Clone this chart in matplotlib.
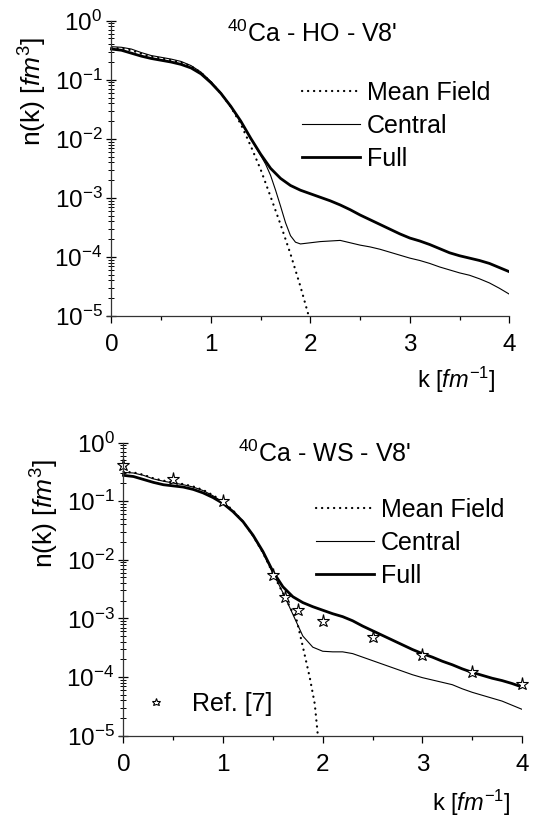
import numpy as np
import matplotlib
matplotlib.use("Agg")
import matplotlib.pyplot as plt
from matplotlib.ticker import LogLocator, MultipleLocator, NullFormatter

plt.rcParams['font.family'] = ['Liberation Sans', 'DejaVu Sans']
plt.rcParams['mathtext.fontset'] = 'custom'
plt.rcParams['mathtext.rm'] = 'Liberation Sans'
plt.rcParams['mathtext.it'] = 'Liberation Sans:italic'
plt.rcParams['mathtext.bf'] = 'Liberation Sans:bold'

# ---------------- data (log10 n(k)) ----------------
k_grid = [0.0, 0.1, 0.2, 0.3, 0.4, 0.5, 0.6, 0.7, 0.8, 0.9, 1.0, 1.1, 1.2, 1.3,
          1.4, 1.5, 1.6, 1.7, 1.8, 1.9, 2.0, 2.1, 2.2, 2.3, 2.4, 2.5, 2.6, 2.7,
          2.8, 2.9, 3.0, 3.1, 3.2, 3.3, 3.4, 3.5, 3.6, 3.7, 3.8, 3.9, 4.0]

# Top panel: 40Ca - HO - V8'
ho_full_log = [-0.48, -0.50, -0.55, -0.60, -0.64, -0.67, -0.70, -0.74, -0.80, -0.90,
               -1.05, -1.23, -1.45, -1.70, -1.99, -2.26, -2.50, -2.67, -2.79, -2.87,
               -2.93, -2.99, -3.05, -3.12, -3.20, -3.29, -3.37, -3.45, -3.53, -3.61,
               -3.68, -3.73, -3.79, -3.86, -3.93, -3.98, -4.02, -4.06, -4.11, -4.18,
               -4.25]
ho_central_k = [0.0, 0.1, 0.2, 0.3, 0.4, 0.5, 0.6, 0.7, 0.8, 0.9, 1.0, 1.1, 1.2, 1.3,
                1.4, 1.5, 1.55, 1.6, 1.65, 1.7, 1.75, 1.8, 1.85, 1.9, 1.95, 2.0, 2.1,
                2.2, 2.3, 2.4, 2.5, 2.6, 2.7, 2.8, 2.9, 3.0, 3.1, 3.2, 3.3, 3.4, 3.5,
                3.6, 3.7, 3.8, 3.9, 4.0]
ho_central_log = [-0.44, -0.45, -0.48, -0.54, -0.59, -0.62, -0.65, -0.69, -0.76, -0.87,
                  -1.03, -1.22, -1.45, -1.71, -2.00, -2.28, -2.43, -2.62, -2.87, -3.14,
                  -3.42, -3.64, -3.75, -3.78, -3.77, -3.76, -3.74, -3.73, -3.72, -3.76,
                  -3.80, -3.83, -3.87, -3.92, -3.97, -4.02, -4.06, -4.11, -4.17, -4.22,
                  -4.27, -4.31, -4.37, -4.44, -4.53, -4.63]
ho_mf_k = [0.0, 0.1, 0.2, 0.3, 0.4, 0.5, 0.6, 0.7, 0.8, 0.9, 1.0, 1.1, 1.2, 1.3,
           1.4, 1.5, 1.6, 1.7, 1.8, 1.9, 2.0]
ho_mf_log = [-0.46, -0.47, -0.50, -0.56, -0.61, -0.64, -0.67, -0.71, -0.77, -0.88,
             -1.04, -1.23, -1.46, -1.75, -2.12, -2.52, -2.98, -3.45, -3.95, -4.50,
             -5.10]

# Bottom panel: 40Ca - WS - V8'
ws_full_log = [-0.56, -0.58, -0.63, -0.68, -0.72, -0.74, -0.76, -0.80, -0.86, -0.94,
               -1.04, -1.18, -1.35, -1.58, -1.86, -2.20, -2.46, -2.63, -2.73, -2.80,
               -2.86, -2.92, -2.97, -3.04, -3.13, -3.21, -3.29, -3.37, -3.45, -3.53,
               -3.60, -3.66, -3.73, -3.79, -3.86, -3.92, -3.97, -4.02, -4.06, -4.11,
               -4.17]
ws_central_log = [-0.51, -0.52, -0.56, -0.62, -0.66, -0.69, -0.72, -0.76, -0.82, -0.91,
                  -1.02, -1.17, -1.35, -1.59, -1.88, -2.22, -2.56, -2.93, -3.30, -3.49,
                  -3.56, -3.57, -3.57, -3.60, -3.66, -3.72, -3.78, -3.84, -3.90, -3.96,
                  -4.01, -4.05, -4.09, -4.13, -4.20, -4.26, -4.31, -4.36, -4.41, -4.48,
                  -4.55]
ws_mf_k = [0.0, 0.1, 0.2, 0.3, 0.4, 0.5, 0.6, 0.7, 0.8, 0.9, 1.0, 1.1, 1.2, 1.3,
           1.4, 1.5, 1.6, 1.7, 1.74, 1.8, 1.87, 1.92, 1.95]
ws_mf_log = [-0.50, -0.51, -0.55, -0.61, -0.65, -0.68, -0.71, -0.75, -0.81, -0.90,
             -1.01, -1.16, -1.35, -1.59, -1.88, -2.23, -2.57, -2.90, -3.04, -3.48,
             -4.01, -4.46, -4.98]
ref7_k = [0.0, 0.5, 1.0, 1.5, 1.625, 1.75, 2.0, 2.5, 3.0, 3.5, 4.0]
ref7_log = [-0.39, -0.62, -0.99, -2.26, -2.63, -2.86, -3.05, -3.31, -3.62, -3.92, -4.11]

titles = [r"$^{40}$Ca - HO - V8'", r"$^{40}$Ca - WS - V8'"]
legend_labels = ["Mean Field", "Central", "Full"]
ref_label = "Ref. [7]"
ylabel = r"n(k) [$\mathit{fm}^{3}$]"
xlabel = r"k [$\mathit{fm}^{-1}$]"

W, H = 536, 823
fig = plt.figure(figsize=(W / 100, H / 100), dpi=100)

def px_ax(left, top, right, bottom):
    return fig.add_axes([left / W, 1 - bottom / H, (right - left) / W, (bottom - top) / H])

ax1 = px_ax(106.5, 20.7, 509.3, 316.0)
ax2 = px_ax(118.5, 442.5, 522.0, 735.7)

def p10(a):
    return 10.0 ** np.asarray(a)

MF_STYLE = dict(color='black', lw=1.6, ls=(0, (0.1, 2.6)), dash_capstyle='round')
C_STYLE = dict(color='black', lw=0.8)
F_STYLE = dict(color='black', lw=2.0)

# top
l_mf, = ax1.plot(ho_mf_k, p10(ho_mf_log), **MF_STYLE)
l_c, = ax1.plot(ho_central_k, p10(ho_central_log), **C_STYLE)
l_f, = ax1.plot(k_grid, p10(ho_full_log), **F_STYLE)
# bottom
m_mf, = ax2.plot(ws_mf_k, p10(ws_mf_log), **MF_STYLE)
m_c, = ax2.plot(k_grid, p10(ws_central_log), **C_STYLE)
m_f, = ax2.plot(k_grid, p10(ws_full_log), **F_STYLE)
m_s, = ax2.plot(ref7_k, p10(ref7_log), ls='none', marker='*', ms=9.5,
                mfc='white', mec='black', mew=0.8, clip_on=False)

TICK_FS = 17.5
for ax in (ax1, ax2):
    ax.set_yscale('log')
    ax.set_ylim(1e-5, 1.0)
    ax.set_xlim(-0.05, 4.0)
    ax.spines['top'].set_visible(False)
    ax.spines['right'].set_visible(False)
    ax.spines['left'].set_position(('data', 0.0))
    ax.spines['left'].set_linewidth(0.9)
    ax.spines['bottom'].set_linewidth(0.9)
    ax.spines['left'].set_color('#333333')
    ax.spines['bottom'].set_color('#333333')
    ax.xaxis.set_major_locator(MultipleLocator(1))
    ax.xaxis.set_minor_locator(MultipleLocator(0.5))
    ax.yaxis.set_major_locator(LogLocator(base=10, numticks=10))
    ax.yaxis.set_minor_locator(LogLocator(base=10, subs=np.arange(2, 10), numticks=20))
    ax.yaxis.set_minor_formatter(NullFormatter())
    ax.tick_params(axis='x', which='major', direction='out', length=5, width=0.9,
                   labelsize=TICK_FS, pad=8)
    ax.tick_params(axis='x', which='minor', direction='out', length=3, width=0.9)
    ax.tick_params(axis='y', which='major', direction='inout', length=7, width=0.9,
                   labelsize=TICK_FS, pad=3)
    ax.tick_params(axis='y', which='minor', direction='inout', length=4, width=0.7)
    ax.set_xticks([0, 1, 2, 3, 4])
    ax.set_xticklabels(['0', '1', '2', '3', '4'])

def ftext(x, y, s, **kw):
    fig.text(x / W, 1 - y / H, s, **kw)

# titles
ftext(312, 42, titles[0], ha='center', va='baseline', fontsize=18)
ftext(325, 462, titles[1], ha='center', va='baseline', fontsize=18)
# y labels
ftext(33, 92, ylabel, ha='center', va='center', rotation=90, fontsize=19)
ftext(45, 514, ylabel, ha='center', va='center', rotation=90, fontsize=19)
# x labels
ftext(496, 380, xlabel, ha='right', va='center', fontsize=17)
ftext(511, 803, xlabel, ha='right', va='center', fontsize=17)

leg_kw = dict(frameon=False, fontsize=18, handlelength=2.3, handletextpad=0.3,
              labelspacing=0.36, borderaxespad=0, borderpad=0)
leg1 = ax1.legend([l_mf, l_c, l_f], legend_labels, loc='upper left',
                  bbox_to_anchor=(302 / W, 1 - 81 / H), bbox_transform=fig.transFigure,
                  **leg_kw)
leg2 = ax2.legend([m_mf, m_c, m_f], legend_labels, loc='upper left',
                  bbox_to_anchor=(316 / W, 1 - 498 / H), bbox_transform=fig.transFigure,
                  **leg_kw)
ax2.add_artist(leg2)
leg3 = ax2.legend([m_s], [ref_label], loc='upper left', markerscale=0.65,
                  bbox_to_anchor=(137 / W, 1 - 692 / H), bbox_transform=fig.transFigure,
                  frameon=False, fontsize=18, handlelength=1.5, handletextpad=0.7,
                  borderaxespad=0, borderpad=0)

fig.savefig('out.png', dpi=100)
